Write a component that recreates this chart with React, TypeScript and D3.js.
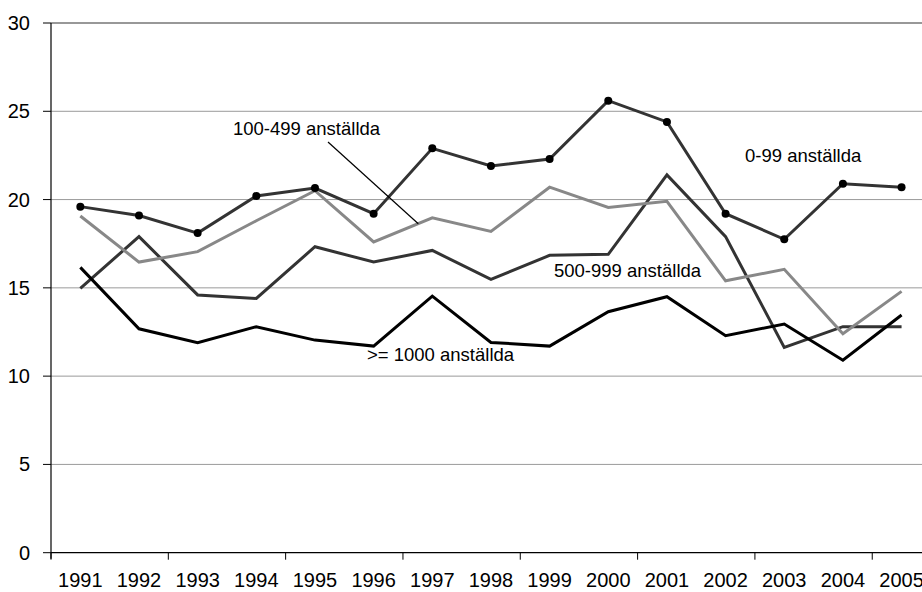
import React from "react";
import * as d3 from "d3";

const years = ["1991","1992","1993","1994","1995","1996","1997","1998","1999","2000","2001","2002","2003","2004","2005"];
const s0_99 = [19.6,19.1,18.1,20.2,20.65,19.2,22.9,21.9,22.3,25.6,24.4,19.2,17.75,20.9,20.7];
const s100_499 = [19.07,16.46,17.05,18.8,20.5,17.6,18.97,18.2,20.7,19.55,19.9,15.4,16.05,12.4,14.8];
const s500_999 = [14.97,17.9,14.6,14.4,17.33,16.46,17.12,15.48,16.84,16.9,21.4,17.9,11.63,12.8,12.8];
const s1000 = [16.16,12.68,11.89,12.8,12.04,11.7,14.53,11.91,11.7,13.65,14.5,12.29,12.95,10.9,13.46];
const yTicks = [0,5,10,15,20,25,30];

const W = 922, H = 592;
const left = 51, top = 23, bottom = 552.7;
const band = 58.66;
const FS = 18.5;
const AFS = 20;

export default function App() {
  const x = d3.scaleBand<string>().domain(years).range([left, left + band * years.length]);
  const y = d3.scaleLinear().domain([0, 30]).range([bottom, top]);
  const cx = (i: number) => (x(years[i]) as number) + x.bandwidth() / 2;
  const line = d3.line<number>().x((_, i) => cx(i)).y(d => y(d));
  const font = "Liberation Sans, Arial, sans-serif";
  const xr = left + band * years.length;
  return (
    <svg width={W} height={H} style={{ position: "absolute", left: 0, top: 0, background: "#fff" }} fontFamily={font}>
      {yTicks.filter(t => t > 0 && t < 30).map(t => (
        <line key={"g" + t} x1={left} x2={xr} y1={y(t)} y2={y(t)} stroke="#9a9a9a" strokeWidth={1} />
      ))}
      <line x1={left} x2={xr} y1={y(30)} y2={y(30)} stroke="#333" strokeWidth={1.2} />
      <line x1={left} x2={left} y1={y(30)} y2={y(0) + 6} stroke="#000" strokeWidth={1.2} />
      <line x1={left} x2={xr} y1={y(0)} y2={y(0)} stroke="#000" strokeWidth={1.2} />
      {yTicks.map(t => (
        <g key={"y" + t}>
          <line x1={left - 8} x2={left} y1={y(t)} y2={y(t)} stroke="#000" strokeWidth={1} />
          <text x={30} y={y(t)} dy="0.35em" textAnchor="end" fontSize={AFS} fill="#000">{t}</text>
        </g>
      ))}
      {years.map((yr, i) => i % 2 === 0 ? (
        <line key={"xt" + yr} x1={x(yr) as number} x2={x(yr) as number} y1={y(0)} y2={y(0) + 7} stroke="#000" strokeWidth={1} />
      ) : null)}
      {years.map((yr, i) => (
        <text key={"xl" + yr} x={cx(i)} y={587} textAnchor="middle" fontSize={AFS} fill="#000">{yr}</text>
      ))}
      <path d={line(s500_999) as string} fill="none" stroke="#333" strokeWidth={3} strokeLinejoin="miter" />
      <path d={line(s1000) as string} fill="none" stroke="#000" strokeWidth={3} strokeLinejoin="miter" />
      <path d={line(s100_499) as string} fill="none" stroke="#888" strokeWidth={3} strokeLinejoin="miter" />
      <path d={line(s0_99) as string} fill="none" stroke="#333" strokeWidth={3} strokeLinejoin="miter" />
      {s0_99.map((v, i) => (
        <circle key={"m" + i} cx={cx(i)} cy={y(v)} r={4} fill="#000" />
      ))}
      <line x1={328} y1={142} x2={cx(6) - 14} y2={y(s100_499[6]) + 6} stroke="#000" strokeWidth={1.2} />
      <text x={233} y={135} fontSize={FS} fill="#000">100-499 anställda</text>
      <text x={745} y={162} fontSize={FS} fill="#000">0-99 anställda</text>
      <text x={554} y={277} fontSize={FS} fill="#000">500-999 anställda</text>
      <text x={367} y={361} fontSize={FS} fill="#000">&gt;= 1000 anställda</text>
    </svg>
  );
}
